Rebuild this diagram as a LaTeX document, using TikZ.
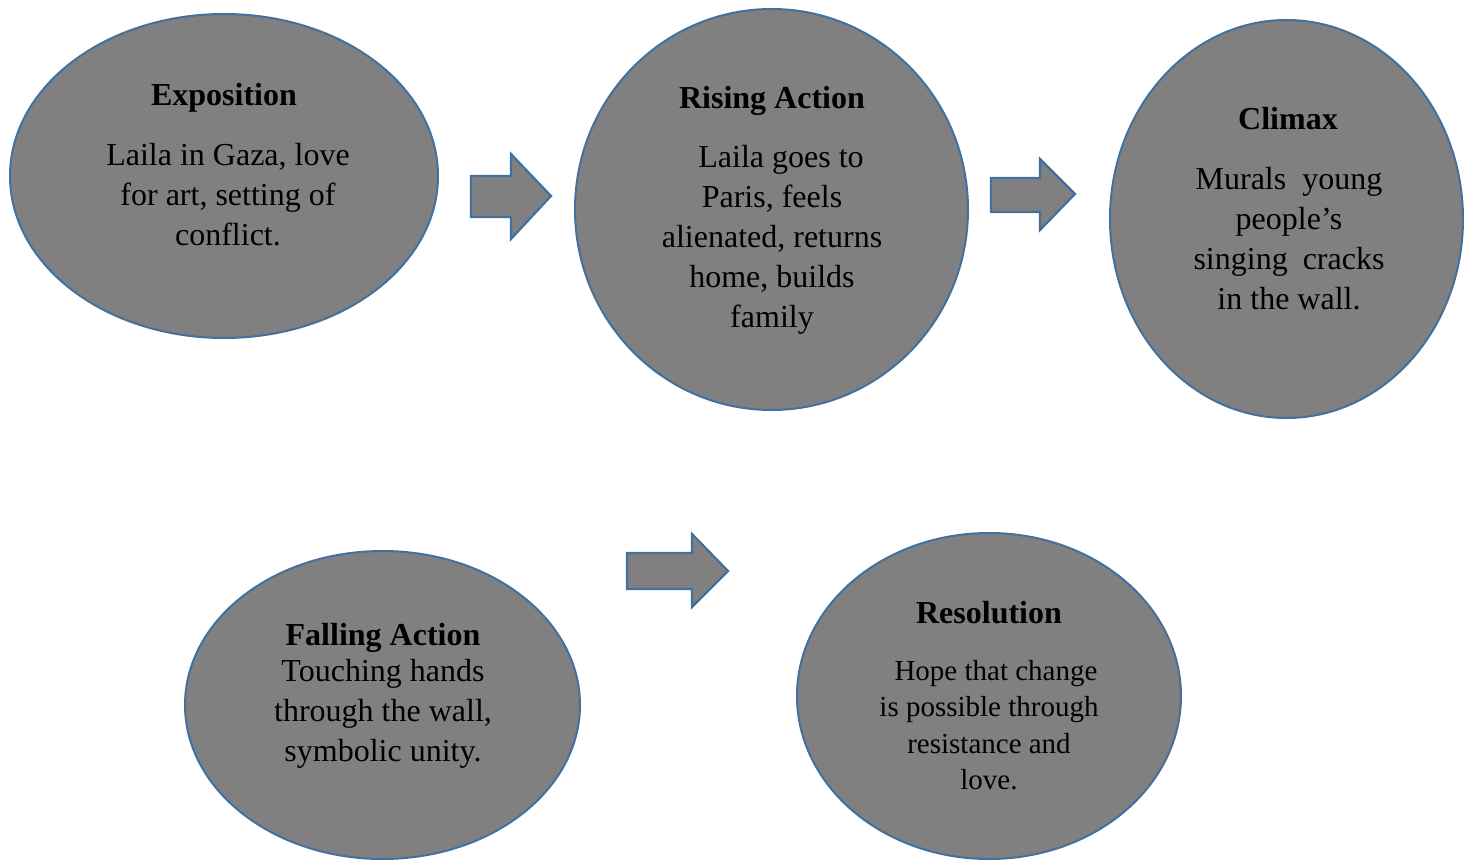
\documentclass[tikz,border=0pt]{standalone}
\usepackage{fontspec}
\setmainfont{Liberation Serif}
\usetikzlibrary{shapes.geometric}
\definecolor{fillgray}{HTML}{808080}
\definecolor{edgeblue}{HTML}{41719C}
\tikzset{
  stage/.style={ellipse, draw=edgeblue, fill=fillgray, line width=2pt, inner sep=0pt},
  ttl/.style={font=\fontsize{32}{40}\selectfont\bfseries, inner sep=0pt},
  body/.style={font=\fontsize{32}{40}\selectfont, align=center, inner sep=0pt},
  smallbody/.style={font=\fontsize{29}{36.5}\selectfont, align=center, inner sep=0pt},
  flow/.style={draw=edgeblue, fill=fillgray, line width=2.2pt, line join=miter}
}
\begin{document}
\begin{tikzpicture}[x=1pt,y=-1pt]
\useasboundingbox (0,0) rectangle (1464,861);
% stages
\node[stage, minimum width=428, minimum height=324] (e1) at (224,176) {};
\node[stage, minimum width=393, minimum height=401] (e2) at (771.5,209.5) {};
\node[stage, minimum width=353, minimum height=398] (e3) at (1286.5,219) {};
\node[stage, minimum width=395, minimum height=308] (e4) at (382.5,705) {};
\node[stage, minimum width=384, minimum height=326] (e5) at (989,696) {};
% texts
\node[ttl] (t1) at (224,98) {Exposition};
\node[body] (b1) at (228,195) {Laila in Gaza, love\\for art, setting of\\conflict.};
\node[ttl] (t2) at (772,101) {Rising Action};
\node[body] (b2) at (772,240) {\hspace{18pt}Laila goes to\\Paris, feels\\alienated, returns\\home, builds\\family};
\node[ttl] (t3) at (1288,119) {Climax};
\node[body] (b3) at (1289,239) {Murals\hspace{16pt}young\\people’s\\singing\hspace{15pt}cracks\\in the wall.};
\node[ttl] (t4) at (383,638) {Falling Action};
\node[body] (b4) at (383,714) {Touching hands\\through the wall,\\symbolic unity.};
\node[ttl] (t5) at (989,613) {Resolution};
\node[smallbody] (b5) at (989,725) {\hspace{14pt}Hope that change\\is possible through\\resistance and\\love.};
% block arrows
\draw[flow] (471,176) -- (511,176) -- (511,154) -- (551,196) -- (511,239) -- (511,217) -- (471,217) -- cycle;
\draw[flow] (991,178) -- (1040,178) -- (1040,159) -- (1075,194) -- (1040,230) -- (1040,212) -- (991,212) -- cycle;
\draw[flow] (627,553) -- (692,553) -- (692,534) -- (728,571) -- (692,607) -- (692,589) -- (627,589) -- cycle;
\end{tikzpicture}
\end{document}
